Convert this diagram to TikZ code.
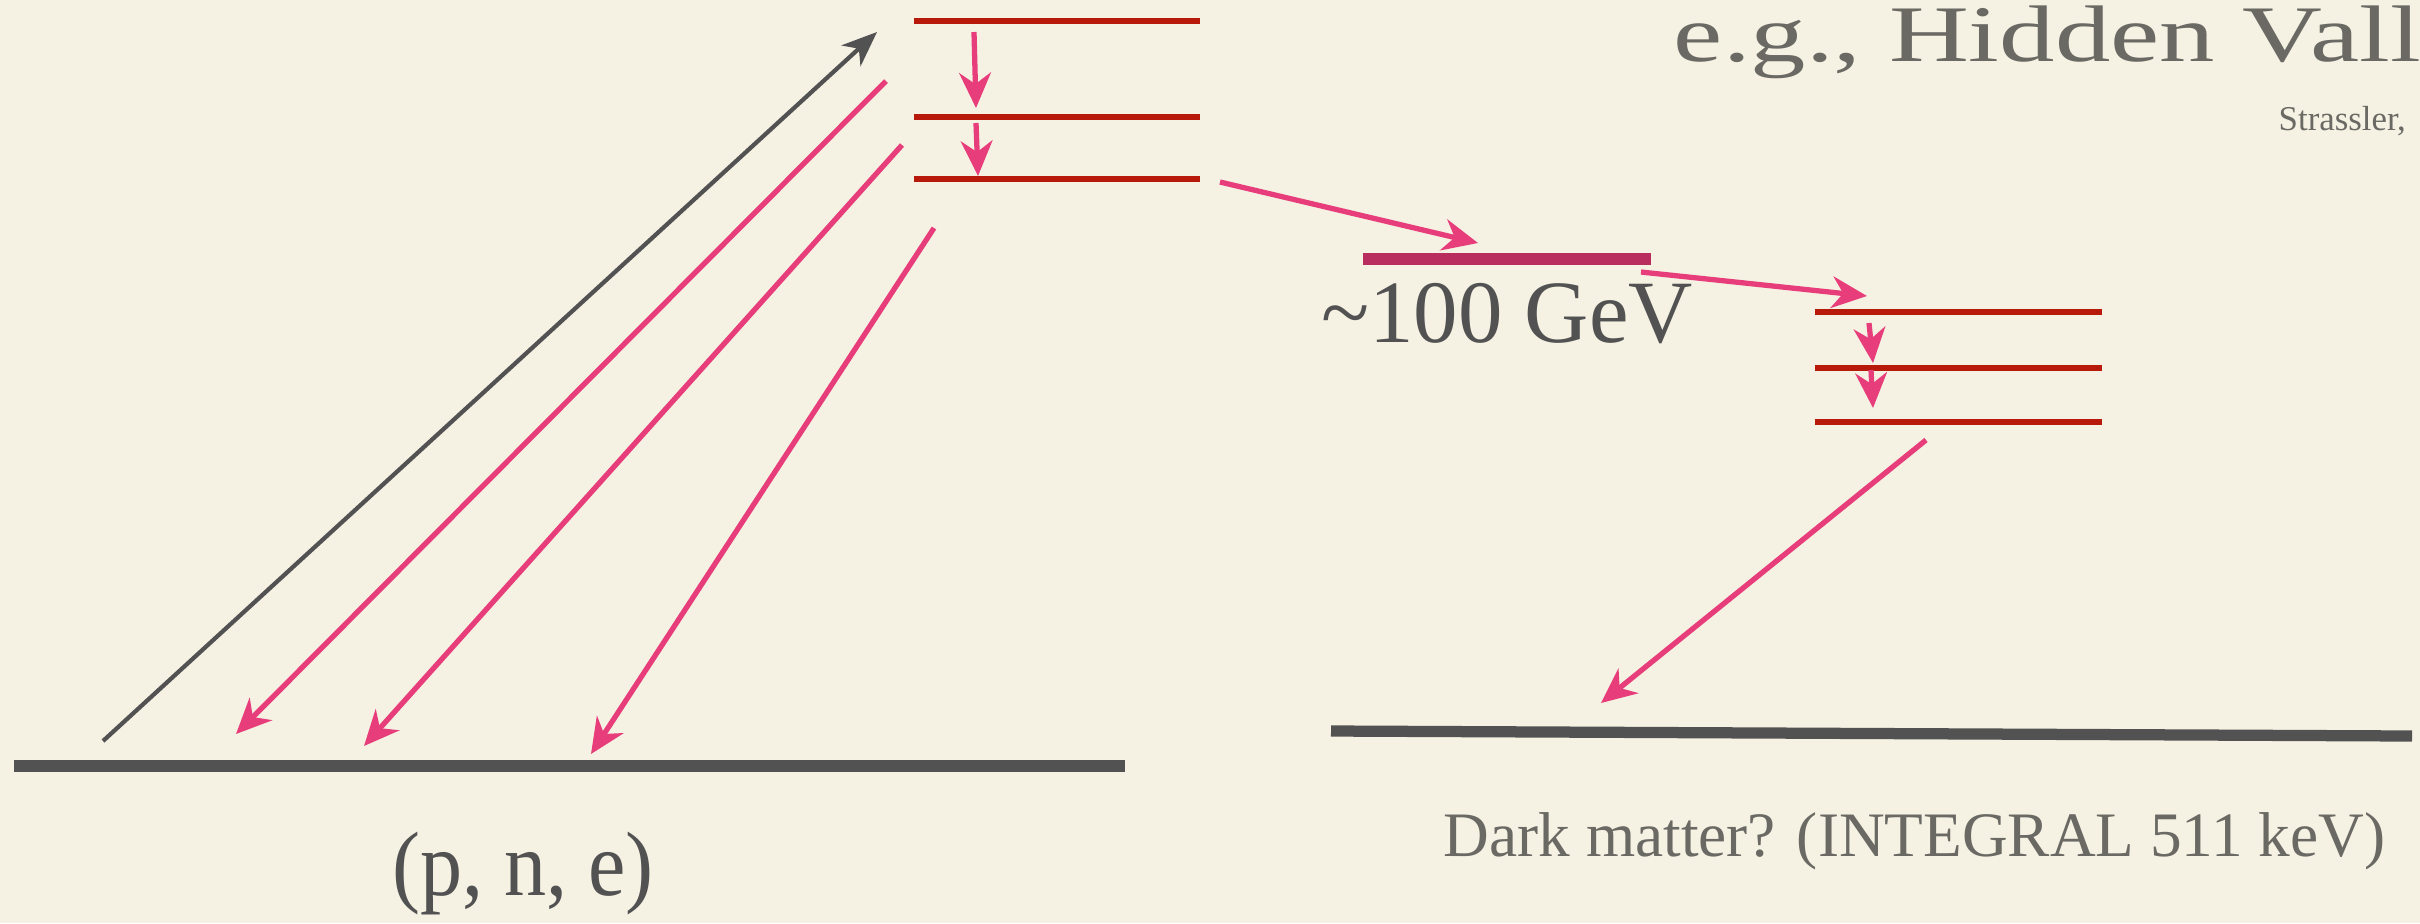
\documentclass[tikz,border=0pt]{standalone}
\usepackage{fontspec}
\setmainfont{Liberation Serif}
\usetikzlibrary{arrows.meta}
\definecolor{paper}{RGB}{245,241,227}
\definecolor{lvlred}{RGB}{183,26,10}
\definecolor{decay}{RGB}{231,62,123}
\definecolor{barpink}{RGB}{184,44,94}
\definecolor{inkgray}{RGB}{82,82,82}
\definecolor{txtgray}{RGB}{106,105,99}
\begin{document}
\begin{tikzpicture}[
  x=0.01cm, y=-0.01cm,
  lvl/.style={draw=lvlred, line width=1.6pt},
  base/.style={draw=inkgray, line width=3.2pt},
  arr/.style={-{Stealth[length=10pt, width=9pt, inset=3.2pt]}, draw=decay, fill=decay, line width=1.5pt},
  uparr/.style={-{Stealth[length=10pt, width=8pt, inset=3pt]}, draw=inkgray, fill=inkgray, line width=1.2pt},
  lbl/.style={inner sep=0pt, anchor=base}
]
  \fill[paper] (0,0) rectangle (2420,923);
  \useasboundingbox (0,0) rectangle (2420,923);

  \draw[base] (14,766) -- (1125,766);
  \draw[base] (1331,731) -- (2412,736);
  \foreach \y in {21,117,179} \draw[lvl] (914,\y) -- (1200,\y);
  \foreach \y in {312,368,422} \draw[lvl] (1815,\y) -- (2102,\y);
  \draw[barpink, line width=3.6pt] (1363,259) -- (1651,259);

  \coordinate (up0) at (103,741);
  \coordinate (up1) at (877,32);
  \coordinate (d1a) at (886,81);   \coordinate (d1b) at (236,734);
  \coordinate (d2a) at (902,145);  \coordinate (d2b) at (364,746);
  \coordinate (d3a) at (934,228);  \coordinate (d3b) at (591,754);
  \coordinate (s1a) at (974,32);   \coordinate (s1b) at (976,108);
  \coordinate (s2a) at (976,123);  \coordinate (s2b) at (978,176);
  \coordinate (h1a) at (1220,182); \coordinate (h1b) at (1478,243);
  \coordinate (h2a) at (1641,272); \coordinate (h2b) at (1867,296);
  \coordinate (r1a) at (1869,323); \coordinate (r1b) at (1873,363);
  \coordinate (r2a) at (1871,370); \coordinate (r2b) at (1873,408);
  \coordinate (dma) at (1926,440); \coordinate (dmb) at (1601,703);

  \draw[uparr] (up0) -- (up1);
  \draw[arr] (d1a) -- (d1b);
  \draw[arr] (d2a) -- (d2b);
  \draw[arr] (d3a) -- (d3b);
  \draw[arr] (s1a) -- (s1b);
  \draw[arr] (s2a) -- (s2b);
  \draw[arr] (h1a) -- (h1b);
  \draw[arr] (h2a) -- (h2b);
  \draw[arr] (r1a) -- (r1b);
  \draw[arr] (r2a) -- (r2b);
  \draw[arr] (dma) -- (dmb);

  \node[lbl, anchor=base west, xscale=1.38, text=txtgray, font=\fontsize{22.8}{27}\selectfont] (title) at (1673,61) {e.g., Hidden Vall};
  \node[lbl, anchor=base west, text=txtgray, font=\fontsize{9.9}{12}\selectfont] (cite) at (2278,130) {Strassler,};
  \node[lbl, text=inkgray, font=\fontsize{25.3}{30}\selectfont] (gev) at (1507,342) {\textasciitilde100 GeV};
  \node[lbl, xscale=0.92, text=inkgray, font=\fontsize{26}{30}\selectfont] (pne) at (523,895) {(p, n, e)};
  \node[lbl, anchor=base west, text=txtgray, font=\fontsize{18}{21}\selectfont] (dm) at (1443,856) {Dark matter? (INTEGRAL 511 keV)};
\end{tikzpicture}
\end{document}
